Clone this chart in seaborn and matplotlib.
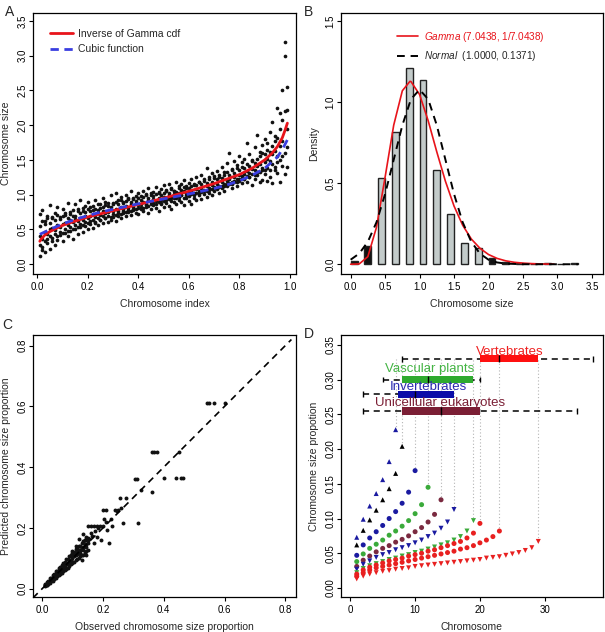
import numpy as np
import pandas as pd
import seaborn as sns
import matplotlib.pyplot as plt

# ---------------- panel A : chromosome size against index ----------------
a_index = [0.01, 0.02, 0.03, 0.04, 0.05, 0.06, 0.07, 0.08, 0.09, 0.10,
           0.11, 0.12, 0.13, 0.14, 0.15, 0.16, 0.17, 0.18, 0.19, 0.20,
           0.21, 0.22, 0.23, 0.24, 0.25, 0.26, 0.27, 0.28, 0.29, 0.30,
           0.31, 0.32, 0.33, 0.34, 0.35, 0.36, 0.37, 0.38, 0.39, 0.40,
           0.41, 0.42, 0.43, 0.44, 0.45, 0.46, 0.47, 0.48, 0.49, 0.50,
           0.51, 0.52, 0.53, 0.54, 0.55, 0.56, 0.57, 0.58, 0.59, 0.60,
           0.61, 0.62, 0.63, 0.64, 0.65, 0.66, 0.67, 0.68, 0.69, 0.70,
           0.71, 0.72, 0.73, 0.74, 0.75, 0.76, 0.77, 0.78, 0.79, 0.80,
           0.81, 0.82, 0.83, 0.84, 0.85, 0.86, 0.87, 0.88, 0.89, 0.90,
           0.91, 0.92, 0.93, 0.94, 0.95, 0.96, 0.97, 0.98, 0.99]
a_size_hi = [0.72, 0.78, 0.62, 0.70, 0.85, 0.66, 0.74, 0.82, 0.68, 0.79,
             0.71, 0.88, 0.75, 0.69, 0.86, 0.80, 0.92, 0.77, 0.84, 0.90,
             0.83, 0.78, 0.93, 0.87, 0.81, 0.95, 0.90, 0.84, 0.99, 0.88,
             1.03, 0.92, 0.97, 0.89, 1.00, 0.94, 1.05, 0.96, 0.91, 1.02,
             0.98, 1.06, 1.01, 1.09, 0.99, 1.04, 1.11, 1.03, 1.08, 1.14,
             1.07, 1.16, 1.10, 1.05, 1.18, 1.12, 1.15, 1.21, 1.09, 1.17,
             1.23, 1.14, 1.26, 1.19, 1.29, 1.22, 1.38, 1.25, 1.31, 1.27,
             1.34, 1.29, 1.40, 1.33, 1.45, 1.60, 1.37, 1.48, 1.43, 1.55,
             1.47, 1.52, 1.74, 1.58, 1.50, 1.68, 1.86, 1.62, 1.72, 1.80,
             1.75, 1.90, 2.05, 1.85, 2.25, 2.18, 2.50, 3.20, 2.55]
a_size_up = [0.55, 0.62, 0.58, 0.66, 0.60, 0.68, 0.63, 0.71, 0.65, 0.69,
             0.74, 0.67, 0.72, 0.78, 0.70, 0.76, 0.73, 0.81, 0.75, 0.79,
             0.77, 0.84, 0.80, 0.78, 0.86, 0.82, 0.85, 0.88, 0.83, 0.87,
             0.90, 0.86, 0.93, 0.88, 0.91, 0.96, 0.89, 0.94, 0.98, 0.95,
             0.93, 0.97, 1.00, 0.96, 1.02, 0.98, 1.01, 1.04, 1.00, 1.03,
             1.05, 1.02, 1.08, 1.06, 1.04, 1.09, 1.07, 1.11, 1.13, 1.10,
             1.12, 1.16, 1.14, 1.18, 1.15, 1.20, 1.17, 1.22, 1.19, 1.24,
             1.23, 1.26, 1.24, 1.29, 1.32, 1.28, 1.35, 1.31, 1.38, 1.36,
             1.40, 1.38, 1.44, 1.42, 1.48, 1.46, 1.52, 1.55, 1.60, 1.58,
             1.64, 1.62, 1.70, 1.78, 1.82, 1.95, 2.08, 2.20, 2.22]
a_size_mid = [0.40, 0.36, 0.47, 0.44, 0.50, 0.52, 0.49, 0.57, 0.54, 0.58,
              0.60, 0.57, 0.63, 0.61, 0.65, 0.62, 0.67, 0.64, 0.70, 0.66,
              0.69, 0.72, 0.68, 0.74, 0.71, 0.76, 0.73, 0.75, 0.79, 0.77,
              0.80, 0.76, 0.82, 0.79, 0.84, 0.81, 0.86, 0.83, 0.88, 0.85,
              0.87, 0.90, 0.86, 0.92, 0.89, 0.94, 0.91, 0.95, 0.93, 0.97,
              0.96, 0.99, 0.95, 1.01, 0.98, 1.03, 1.00, 1.05, 1.02, 1.04,
              1.06, 1.03, 1.08, 1.05, 1.10, 1.07, 1.12, 1.09, 1.14, 1.11,
              1.15, 1.13, 1.18, 1.16, 1.20, 1.23, 1.19, 1.25, 1.22, 1.28,
              1.27, 1.30, 1.34, 1.31, 1.37, 1.35, 1.41, 1.44, 1.39, 1.47,
              1.52, 1.49, 1.58, 1.63, 1.56, 1.70, 1.78, 3.00, 1.95]
a_size_down = [0.28, 0.20, 0.33, 0.36, 0.40, 0.34, 0.44, 0.41, 0.47, 0.45,
               0.50, 0.48, 0.53, 0.51, 0.56, 0.54, 0.58, 0.56, 0.61, 0.59,
               0.62, 0.64, 0.61, 0.66, 0.64, 0.69, 0.67, 0.70, 0.68, 0.72,
               0.71, 0.74, 0.72, 0.77, 0.75, 0.78, 0.76, 0.80, 0.79, 0.81,
               0.83, 0.81, 0.85, 0.84, 0.86, 0.88, 0.87, 0.90, 0.88, 0.91,
               0.92, 0.94, 0.91, 0.96, 0.95, 0.97, 0.99, 0.96, 1.00, 0.98,
               1.01, 0.99, 1.03, 1.02, 1.04, 1.06, 1.05, 1.07, 1.08, 1.10,
               1.09, 1.11, 1.13, 1.12, 1.15, 1.17, 1.16, 1.20, 1.19, 1.22,
               1.24, 1.23, 1.27, 1.26, 1.30, 1.29, 1.33, 1.32, 1.36, 1.35,
               1.38, 1.36, 1.44, 1.40, 1.47, 1.50, 1.55, 1.60, 1.68]
a_size_lo = [0.12, 0.25, 0.18, 0.30, 0.22, 0.38, 0.28, 0.35, 0.42, 0.33,
             0.45, 0.40, 0.48, 0.37, 0.50, 0.44, 0.53, 0.47, 0.55, 0.51,
             0.58, 0.52, 0.60, 0.56, 0.63, 0.59, 0.66, 0.61, 0.64, 0.68,
             0.62, 0.70, 0.66, 0.73, 0.69, 0.75, 0.71, 0.78, 0.74, 0.72,
             0.80, 0.76, 0.82, 0.73, 0.79, 0.85, 0.81, 0.77, 0.86, 0.83,
             0.88, 0.84, 0.80, 0.90, 0.87, 0.93, 0.89, 0.85, 0.95, 0.91,
             0.86, 0.96, 0.92, 0.99, 0.94, 1.01, 0.97, 1.03, 0.99, 1.05,
             1.08, 1.02, 1.10, 1.06, 1.13, 1.15, 1.09, 1.18, 1.12, 1.20,
             1.17, 1.22, 1.19, 1.25, 1.14, 1.23, 1.28, 1.18, 1.21, 1.30,
             1.20, 1.26, 1.17, 1.35, 1.31, 1.19, 1.42, 1.30, 1.40]
gamma_inv_x = [0.01, 0.015, 0.02, 0.03, 0.05, 0.10, 0.15, 0.20, 0.30, 0.40, 0.50,
               0.60, 0.70, 0.80, 0.85, 0.90, 0.93, 0.95, 0.97, 0.98, 0.99]
gamma_inv_y = [0.33, 0.36, 0.38, 0.42, 0.47, 0.56, 0.62, 0.68, 0.77, 0.86, 0.95,
               1.05, 1.16, 1.29, 1.38, 1.50, 1.60, 1.69, 1.82, 1.92, 2.03]
cubic_x = [0.01, 0.05, 0.10, 0.15, 0.20, 0.25, 0.30, 0.35, 0.40, 0.45, 0.50,
           0.55, 0.60, 0.65, 0.70, 0.75, 0.80, 0.85, 0.90, 0.95, 0.97, 0.99]
cubic_y = [0.43, 0.50, 0.58, 0.645, 0.70, 0.75, 0.79, 0.83, 0.87, 0.905, 0.94,
           0.975, 1.01, 1.05, 1.09, 1.14, 1.20, 1.28, 1.38, 1.54, 1.65, 1.79]

# ---------------- panel B : histogram of sizes ----------------
hist_left = [0.0, 0.2, 0.4, 0.6, 0.8, 1.0, 1.2, 1.4, 1.6, 1.8,
             2.0, 2.2, 2.4, 2.6, 2.8, 3.0, 3.2]
hist_density = [0.02, 0.113, 0.53, 0.815, 1.21, 1.135, 0.58, 0.307, 0.13, 0.10,
                0.037, 0.012, 0.006, 0.004, 0.006, 0.0, 0.005]
hist_tail = [True, True, False, False, False, False, False, False, False, False,
             True, True, True, True, True, True, True]
pdf_x = [0.0, 0.125, 0.25, 0.375, 0.5, 0.625, 0.75, 0.86, 0.875, 1.0, 1.125,
         1.25, 1.375, 1.5, 1.625, 1.75, 1.875, 2.0, 2.125, 2.25, 2.375,
         2.5, 2.625, 2.75, 2.875, 2.95]
gamma_pdf = [0.0, 0.002, 0.047, 0.228, 0.537, 0.858, 1.070, 1.128, 1.127, 1.047,
             0.885, 0.693, 0.512, 0.359, 0.241, 0.156, 0.099, 0.060, 0.036,
             0.021, 0.012, 0.007, 0.004, 0.002, 0.001, 0.001]
normal_x = [0.0, 0.125, 0.25, 0.375, 0.5, 0.625, 0.75, 0.875, 1.0, 1.125, 1.25,
            1.375, 1.5, 1.625, 1.75, 1.875, 2.0, 2.125, 2.25, 2.5, 3.3]
normal_pdf = [0.028, 0.066, 0.139, 0.259, 0.433, 0.645, 0.857, 1.018, 1.077,
              1.018, 0.857, 0.645, 0.433, 0.259, 0.139, 0.066, 0.028, 0.011,
              0.004, 0.0, 0.0]

# ---------------- panel C : observed vs predicted ----------------
c_obs = [0.010, 0.015, 0.020, 0.025, 0.030, 0.035, 0.040, 0.045, 0.050, 0.055,
         0.060, 0.065, 0.070, 0.075, 0.080, 0.085, 0.090, 0.095, 0.100, 0.105,
         0.110, 0.115, 0.120, 0.125, 0.130, 0.135, 0.140, 0.145, 0.150]
c_pred_hi = [0.015, 0.022, 0.026, 0.034, 0.037, 0.045, 0.049, 0.058, 0.060, 0.068,
             0.072, 0.079, 0.085, 0.088, 0.097, 0.099, 0.108, 0.112, 0.118, 0.121,
             0.131, 0.133, 0.142, 0.140, 0.152, 0.158, 0.160, 0.171, 0.168]
c_pred_near = [0.013, 0.014, 0.023, 0.024, 0.033, 0.034, 0.044, 0.043, 0.054, 0.053,
               0.064, 0.063, 0.074, 0.073, 0.084, 0.083, 0.095, 0.094, 0.104, 0.110,
               0.115, 0.120, 0.125, 0.118, 0.135, 0.128, 0.148, 0.138, 0.160]
c_pred_lo = [0.008, 0.011, 0.016, 0.019, 0.025, 0.027, 0.033, 0.036, 0.042, 0.044,
             0.050, 0.052, 0.058, 0.063, 0.066, 0.070, 0.075, 0.081, 0.084, 0.089,
             0.094, 0.097, 0.102, 0.108, 0.111, 0.112, 0.118, 0.124, 0.128]
c_pred_mid = [0.011, 0.016, 0.021, 0.027, 0.031, 0.036, 0.042, 0.046, 0.051, 0.057,
              0.061, 0.066, 0.071, 0.077, 0.081, 0.086, 0.092, 0.096, 0.101, 0.107,
              0.112, 0.116, 0.121, 0.127, 0.131, 0.137, 0.141, 0.146, 0.152]
c_obs_sparse = [0.155, 0.16, 0.165, 0.17, 0.175, 0.18, 0.185, 0.19, 0.195, 0.2,
                0.205, 0.21, 0.215, 0.22, 0.225, 0.23, 0.24, 0.245, 0.25, 0.255,
                0.26, 0.265, 0.275, 0.2, 0.21, 0.17, 0.16, 0.15, 0.18, 0.14,
                0.12, 0.135, 0.145, 0.13, 0.11, 0.10, 0.305, 0.313, 0.315, 0.325,
                0.36, 0.36, 0.368, 0.379, 0.45, 0.40, 0.44, 0.457, 0.465, 0.542,
                0.549, 0.564, 0.602]
c_pred_sparse = [0.165, 0.185, 0.175, 0.15, 0.19, 0.17, 0.20, 0.205, 0.16, 0.205,
                 0.23, 0.22, 0.195, 0.15, 0.23, 0.205, 0.26, 0.255, 0.26, 0.30,
                 0.265, 0.215, 0.30, 0.26, 0.26, 0.205, 0.205, 0.205, 0.205, 0.16,
                 0.165, 0.18, 0.11, 0.095, 0.14, 0.125, 0.36, 0.36, 0.215, 0.325,
                 0.32, 0.45, 0.45, 0.45, 0.45, 0.365, 0.365, 0.365, 0.365, 0.61,
                 0.61, 0.61, 0.61]

# ---------------- panel D : size proportion per chromosome ----------------
d_blue_up = [0.073, 0.099, 0.118, 0.136, 0.156, 0.182, 0.228]
d_black_up = [0.062, 0.083, 0.098, 0.112, 0.127, 0.143, 0.165, 0.204]
d_blue_dot = [0.047, 0.062, 0.072, 0.081, 0.090, 0.100, 0.110, 0.122, 0.138, 0.169]
d_green_dot = [0.038, 0.049, 0.057, 0.063, 0.069, 0.076, 0.082, 0.089, 0.097, 0.107,
               0.120, 0.145]
d_maroon_dot = [0.031, 0.040, 0.046, 0.052, 0.057, 0.061, 0.066, 0.070, 0.075, 0.081,
                0.087, 0.095, 0.106, 0.127]
d_blue_down = [0.027, 0.034, 0.039, 0.044, 0.048, 0.051, 0.055, 0.058, 0.061, 0.065,
               0.069, 0.074, 0.079, 0.086, 0.095, 0.113]
d_green_down = [0.022, 0.028, 0.032, 0.035, 0.038, 0.041, 0.043, 0.046, 0.048, 0.051,
                0.053, 0.056, 0.059, 0.062, 0.065, 0.069, 0.074, 0.082, 0.097]
d_red_dot20 = [0.020, 0.026, 0.030, 0.033, 0.036, 0.039, 0.041, 0.043, 0.046, 0.048,
               0.050, 0.053, 0.055, 0.058, 0.061, 0.064, 0.067, 0.072, 0.079, 0.093]
d_red_dot23 = [0.017, 0.022, 0.026, 0.029, 0.031, 0.033, 0.035, 0.037, 0.039, 0.041,
               0.043, 0.045, 0.047, 0.049, 0.051, 0.053, 0.056, 0.058, 0.061, 0.065,
               0.069, 0.074, 0.082]
d_red_down = [0.013, 0.017, 0.020, 0.022, 0.024, 0.025, 0.027, 0.028, 0.029, 0.031,
              0.032, 0.033, 0.034, 0.035, 0.036, 0.037, 0.038, 0.039, 0.040, 0.041,
              0.043, 0.044, 0.045, 0.047, 0.049, 0.051, 0.054, 0.058, 0.067]

group_names = ["Vertebrates", "Vascular plants", "Invertebrates", "Unicellular eukaryotes"]
group_min = [8, 5, 2, 2]
group_max = [37.5, 20, 7.5, 35]
group_q1 = [20, 8, 7.4, 8]
group_q3 = [29, 19, 16, 20]
group_median = [23, 12, 10, 14]
group_level = [0.33, 0.30, 0.279, 0.255]
group_label_x = [24.6, 12.3, 12.0, 13.8]

# ---------------- figure ----------------
sns.set_theme(style="ticks")
plt.rcParams["font.family"] = ["Liberation Sans", "DejaVu Sans"]
plt.rcParams["mathtext.fontset"] = "custom"
plt.rcParams["mathtext.it"] = "Liberation Sans:italic"
plt.rcParams["mathtext.rm"] = "Liberation Sans"

fig = plt.figure(figsize=(6.05, 6.32), dpi=100)
ax_a = fig.add_axes([0.0545, 0.5665, 0.4347, 0.413])
ax_b = fig.add_axes([0.5636, 0.5665, 0.4330, 0.413])
ax_c = fig.add_axes([0.0545, 0.0554, 0.4347, 0.4146])
ax_d = fig.add_axes([0.5636, 0.0554, 0.4330, 0.4146])


def style_axes(ax, xlabel, ylabel):
    for s in ax.spines.values():
        s.set_visible(True)
        s.set_color("black")
        s.set_linewidth(0.9)
    ax.tick_params(axis="both", labelsize=7, length=3, width=0.8,
                   direction="out", colors="black")
    ax.tick_params(axis="x", pad=2.5)
    ax.tick_params(axis="y", pad=1)
    for lbl in ax.get_yticklabels():
        lbl.set_rotation(90)
        lbl.set_va("center")
    ax.set_xlabel(xlabel, fontsize=7.5)
    ax.set_ylabel(ylabel, fontsize=7.5)
    ax.yaxis.set_label_coords(-0.083, 0.5)
    ax.xaxis.set_label_coords(0.5, -0.094)
    ax.grid(False)
    ax.set_facecolor("white")


# ---- A ----
df_a = pd.DataFrame({
    "index": a_index * 5,
    "size": a_size_hi + a_size_up + a_size_mid + a_size_down + a_size_lo,
})
sns.scatterplot(data=df_a, x="index", y="size", ax=ax_a, color="#111111",
                s=7, linewidth=0, legend=False)
ax_a.plot(gamma_inv_x, gamma_inv_y, color="#e8141b", lw=2.0,
          label="Inverse of Gamma cdf")
ax_a.plot(cubic_x, cubic_y, color="#3a3ee0", lw=2.0, ls=(0, (3, 2)),
          label="Cubic function")
ax_a.set_xlim(-0.017, 1.024)
ax_a.set_ylim(-0.14, 3.615)
ax_a.set_xticks([0.0, 0.2, 0.4, 0.6, 0.8, 1.0])
ax_a.set_yticks([0.0, 0.5, 1.0, 1.5, 2.0, 2.5, 3.0, 3.5])
ax_a.set_xticklabels(["0.0", "0.2", "0.4", "0.6", "0.8", "1.0"])
ax_a.set_yticklabels(["0.0", "0.5", "1.0", "1.5", "2.0", "2.5", "3.0", "3.5"])
style_axes(ax_a, "Chromosome index", "Chromosome size")
ax_a.legend(loc="upper left", bbox_to_anchor=(0.065, 0.94), frameon=False,
            borderaxespad=0, borderpad=0, fontsize=7.5, handlelength=2.2,
            handletextpad=0.5, labelspacing=0.55)

# ---- B ----
bar_colors = ["#111111" if t else "#c3cbca" for t in hist_tail]
ax_b.bar(hist_left, hist_density, width=0.1, align="edge", color=bar_colors,
         edgecolor="#222222", linewidth=1.0)
sns.lineplot(x=pdf_x, y=gamma_pdf, ax=ax_b, color="#e8141b", lw=1.2,
             label=r"$\it{Gamma}$ (7.0438, 1/7.0438)")
sns.lineplot(x=normal_x, y=normal_pdf, ax=ax_b, color="black", lw=1.4,
             ls=(0, (4, 3)), label=r"$\it{Normal}$  (1.0000, 0.1371)")
ax_b.set_xlim(-0.14, 3.66)
ax_b.set_ylim(-0.06, 1.55)
ax_b.set_xticks([0.0, 0.5, 1.0, 1.5, 2.0, 2.5, 3.0, 3.5])
ax_b.set_xticklabels(["0.0", "0.5", "1.0", "1.5", "2.0", "2.5", "3.0", "3.5"])
ax_b.set_yticks([0.0, 0.5, 1.0, 1.5])
ax_b.set_yticklabels(["0.0", "0.5", "1.0", "1.5"])
style_axes(ax_b, "Chromosome size", "Density")
leg = ax_b.legend(loc="upper left", bbox_to_anchor=(0.214, 0.935), frameon=False,
                  borderaxespad=0, borderpad=0, fontsize=7.2, handlelength=2.1,
                  handletextpad=0.6, labelspacing=0.55)
leg.get_texts()[0].set_color("#e8141b")

# ---- C ----
df_c = pd.DataFrame({
    "obs": c_obs * 4 + c_obs_sparse,
    "pred": c_pred_hi + c_pred_near + c_pred_lo + c_pred_mid + c_pred_sparse,
})
sns.scatterplot(data=df_c, x="obs", y="pred", ax=ax_c, color="#111111",
                s=8, linewidth=0, legend=False)
ax_c.plot([-0.03, 0.82], [-0.03, 0.82], color="black", lw=1.2, ls=(0, (4, 3)))
ax_c.set_xlim(-0.03, 0.835)
ax_c.set_ylim(-0.027, 0.835)
ticks_c = [0.0, 0.2, 0.4, 0.6, 0.8]
ax_c.set_xticks(ticks_c)
ax_c.set_yticks(ticks_c)
ax_c.set_xticklabels(["0.0", "0.2", "0.4", "0.6", "0.8"])
ax_c.set_yticklabels(["0.0", "0.2", "0.4", "0.6", "0.8"])
style_axes(ax_c, "Observed chromosome size proportion",
           "Predicted chromosome size proportion")

# ---- D ----
d_series = [
    ("blue_up", d_blue_up), ("black_up", d_black_up), ("blue_dot", d_blue_dot),
    ("green_dot", d_green_dot), ("maroon_dot", d_maroon_dot),
    ("blue_down", d_blue_down), ("green_down", d_green_down),
    ("red_dot20", d_red_dot20), ("red_dot23", d_red_dot23), ("red_down", d_red_down),
]
d_palette = {"blue_up": "#1a1aa0", "black_up": "#000000", "blue_dot": "#1a1aa0",
             "green_dot": "#3aaa3a", "maroon_dot": "#7a2a40", "blue_down": "#1a1aa0",
             "green_down": "#3aaa3a", "red_dot20": "#e82020", "red_dot23": "#e82020",
             "red_down": "#e82020"}
d_markers = {"blue_up": "^", "black_up": "^", "blue_dot": "o", "green_dot": "o",
             "maroon_dot": "o", "blue_down": "v", "green_down": "v",
             "red_dot20": "o", "red_dot23": "o", "red_down": "v"}
rows = []
for name, vals in d_series:
    for i, v in enumerate(vals):
        rows.append({"series": name, "chrom": i + 1, "prop": v})
df_d = pd.DataFrame(rows)

# dotted guides from the largest chromosome of each series up to the bars
for name, vals in d_series:
    ax_d.vlines(len(vals), vals[-1], 0.33, color="#b5b5b5", lw=0.8,
                ls=(0, (1, 2)), zorder=1)

sns.scatterplot(data=df_d, x="chrom", y="prop", hue="series", style="series",
                palette=d_palette, markers=d_markers, s=13, linewidth=0,
                legend=False, ax=ax_d, zorder=3)

group_colors = ["#ff1010", "#2eaa2e", "#0c0ca8", "#7b1f35"]
label_colors = ["#ee2020", "#44b444", "#2a2ab0", "#7b1f35"]
label_y = [0.340, 0.316, 0.290, 0.266]
for k in range(len(group_names)):
    y = group_level[k]
    ax_d.hlines(y, group_min[k], group_max[k], color="black", lw=1.1,
                ls=(0, (4, 3)), zorder=4)
    ax_d.vlines([group_min[k], group_max[k]], y - 0.004, y + 0.004,
                color="black", lw=1.0, zorder=4)
    ax_d.barh(y, group_q3[k] - group_q1[k], left=group_q1[k], height=0.0105,
              color=group_colors[k], linewidth=0, zorder=5)
    ax_d.vlines(group_median[k], y - 0.0052, y + 0.0052, color="black",
                lw=1.0, zorder=6)
    ax_d.text(group_label_x[k], label_y[k], group_names[k], color=label_colors[k],
              fontsize=9.5, ha="center", va="center", zorder=7)

ax_d.set_xlim(-1.43, 38.97)
ax_d.set_ylim(-0.013, 0.3644)
ax_d.set_xticks([0, 10, 20, 30])
ax_d.set_xticklabels(["0", "10", "20", "30"])
yt = [0.00, 0.05, 0.10, 0.15, 0.20, 0.25, 0.30, 0.35]
ax_d.set_yticks(yt)
ax_d.set_yticklabels(["0.00", "0.05", "0.10", "0.15", "0.20", "0.25", "0.30", "0.35"])
style_axes(ax_d, "Chromosome", "Chromosome size propotion")

# panel letters
fig.text(0.008, 0.992, "A", fontsize=10, va="top", ha="left")
fig.text(0.503, 0.992, "B", fontsize=10, va="top", ha="left")
fig.text(0.004, 0.497, "C", fontsize=10, va="top", ha="left")
fig.text(0.503, 0.482, "D", fontsize=10, va="top", ha="left")

fig.savefig("out.png", dpi=100, facecolor="white")
